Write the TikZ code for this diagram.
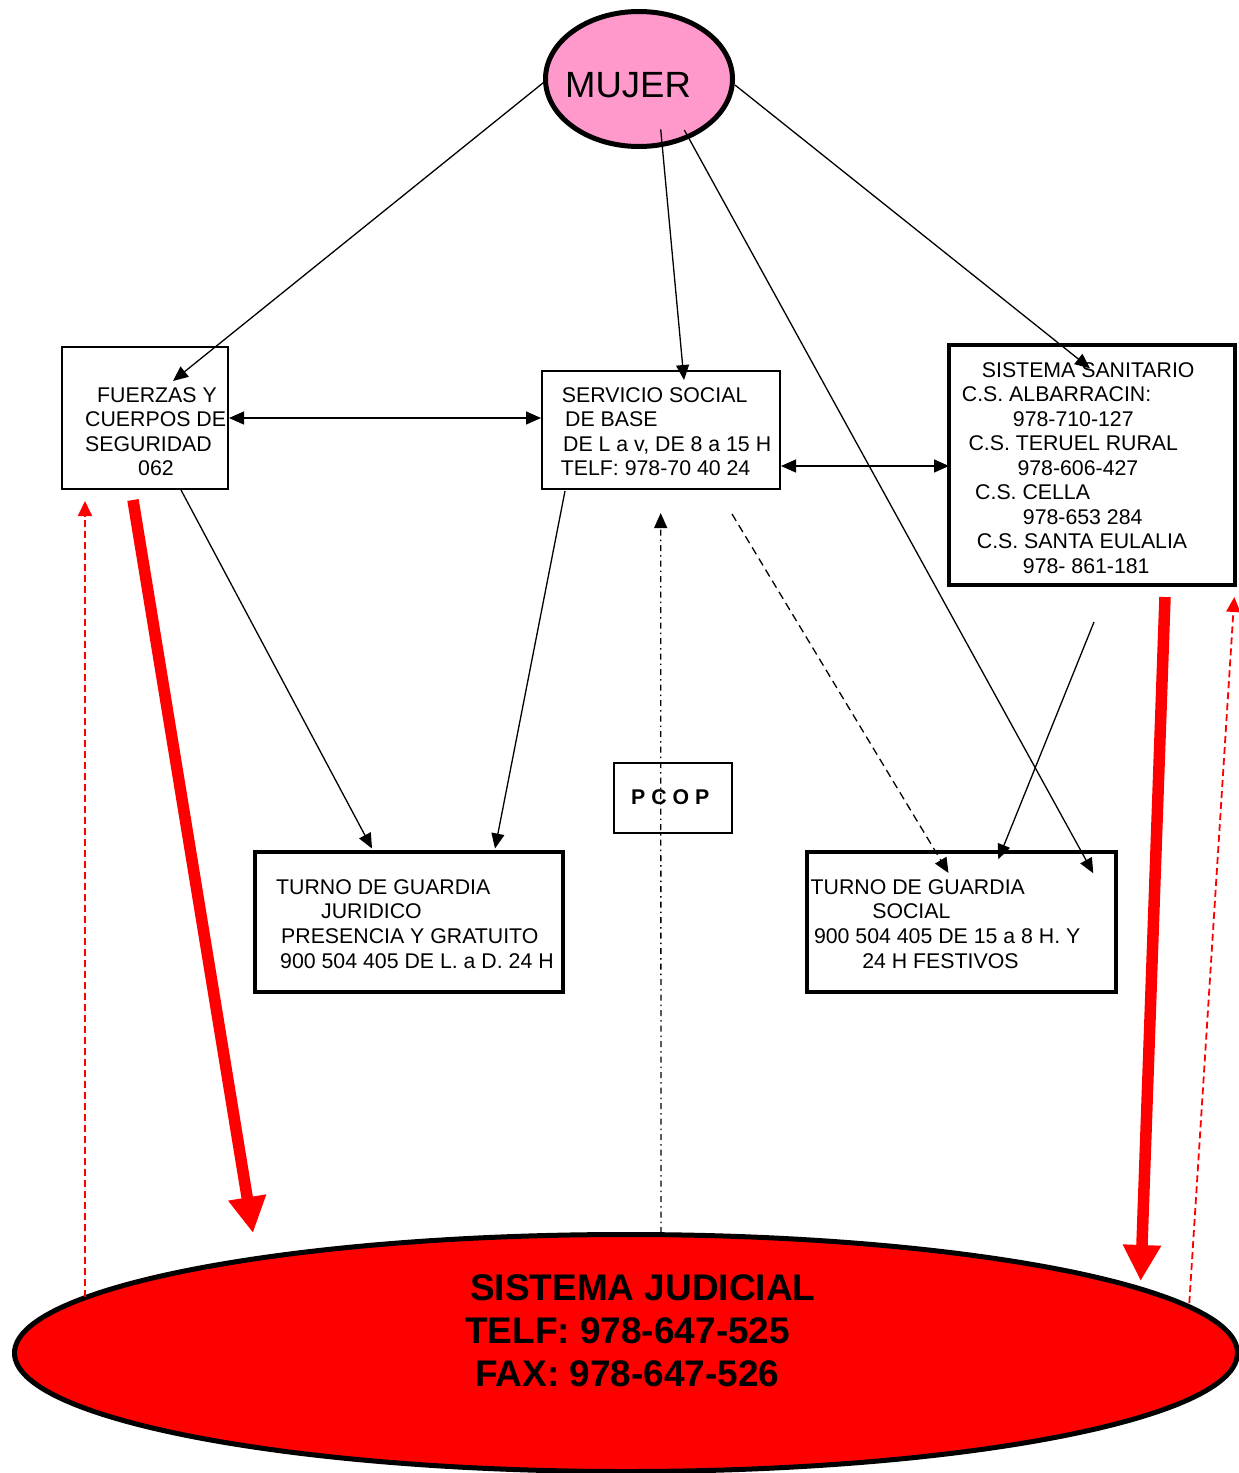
\documentclass[tikz,border=0pt]{standalone}
\usepackage{fontspec}
\setmainfont{Liberation Sans}
\usetikzlibrary{arrows.meta,shapes.geometric}
\definecolor{pinkc}{HTML}{FF99CC}
\begin{document}
\begin{tikzpicture}[x=1pt,y=-1pt,
  tip/.style={-{Triangle[length=15pt,width=13pt]}},
  conn/.style={line width=1.3pt,tip},
  dconn/.style={line width=1.3pt,{Triangle[length=15pt,width=13pt]}-{Triangle[length=15pt,width=13pt]}},
  box/.style={draw,line width=2pt,inner sep=0pt},
  tbox/.style={draw,line width=4pt,inner sep=0pt},
  txt/.style={anchor=north west,inner sep=0pt,align=left,font=\fontsize{21.3}{24.5}\selectfont},
  bigred/.style={draw=red,line width=11.5pt,-{Triangle[length=36pt,width=36pt]}},
  thinred/.style={draw=red,line width=1.8pt,dash pattern=on 7pt off 4pt,-{Triangle[length=15pt,width=14pt]}},
]
\useasboundingbox (0,0) rectangle (1239,1473);
% shapes
\node[ellipse,draw,line width=5pt,fill=pinkc,minimum width=187pt,minimum height=135pt,inner sep=0pt] (mujer) at (639,79) {};
\node[anchor=north west,inner sep=0pt,font=\fontsize{36.5}{40}\selectfont] (mujert) at (565,72.2) {MUJER};
\node[ellipse,draw,line width=5pt,fill=red,minimum width=1223pt,minimum height=237pt,inner sep=0pt] (jud) at (626,1353) {};
\node[anchor=north west,inner sep=0pt,align=left,font=\fontsize{37}{43}\selectfont\bfseries] (judt) at (465,1274.5)
  {\hspace*{5pt}SISTEMA JUDICIAL\\TELF: 978-647-525\\\hspace*{10pt}FAX: 978-647-526};

\node[box,minimum width=166pt,minimum height=142pt] (fz) at (145,418) {};
\node[txt,font=\fontsize{21.3}{24.4}\selectfont] (fzt) at (85,387.5)
  {\hspace*{12pt}FUERZAS Y\\CUERPOS DE\\SEGURIDAD\\\hspace*{53pt}062};

\node[box,minimum width=238pt,minimum height=118pt] (ss) at (661,430) {};
\node[txt] (sst) at (560.7,387)
  {\hspace*{1pt}SERVICIO SOCIAL\\\hspace*{4.3pt}DE BASE\\\hspace*{2.3pt}DE L a v, DE 8 a 15 H\\TELF: 978-70 40 24};

\node[tbox,minimum width=286pt,minimum height=240pt] (san) at (1092,465) {};
\node[txt,font=\fontsize{21.3}{24.5}\selectfont] (sant) at (961.7,362)
  {\hspace*{20pt}SISTEMA SANITARIO\\C.S. ALBARRACIN:\\\hspace*{51pt}978-710-127\\\hspace*{6.6pt}C.S. TERUEL RURAL\\\hspace*{55.6pt}978-606-427\\\hspace*{13.3pt}C.S. CELLA\\\hspace*{61pt}978-653 284\\\hspace*{15pt}C.S. SANTA EULALIA\\\hspace*{61pt}978- 861-181};

\node[tbox,minimum width=308pt,minimum height=140pt] (tj) at (409,922) {};
\node[txt,font=\fontsize{21.3}{24.7}\selectfont] (tjt) at (276,879)
  {TURNO DE GUARDIA\\\hspace*{45pt}JURIDICO\\\hspace*{5pt}PRESENCIA Y GRATUITO\\\hspace*{4pt}900 504 405 DE L. a D. 24 H};

\node[tbox,minimum width=309pt,minimum height=140pt] (ts) at (961.5,922) {};
\node[txt,font=\fontsize{21.3}{24.7}\selectfont] (tst) at (810.5,879)
  {TURNO DE GUARDIA\\\hspace*{61.6pt}SOCIAL\\\hspace*{3.3pt}900 504 405 DE 15 a 8 H. Y\\\hspace*{51.6pt}24 H FESTIVOS};

\node[box,minimum width=118pt,minimum height=70pt] (pc) at (673,798) {};
\node[txt,font=\fontsize{21.3}{24.5}\selectfont\bfseries] (pct) at (631,789) {P C O P};

% coordinates
\coordinate (m1) at (543.3,82.7);
\coordinate (m2) at (660.7,129.3);
\coordinate (m3) at (684.3,130);
\coordinate (m4) at (735,85);
\coordinate (fzin) at (173,381);
\coordinate (ssin) at (684,380);
\coordinate (tsin3) at (1093.3,873.3);
\coordinate (sanin) at (1090,368.3);
\coordinate (fzR) at (229,418);
\coordinate (ssL) at (541,418);
\coordinate (ssR) at (781,466);
\coordinate (sanL) at (949,466);
\coordinate (fzB) at (181,490);
\coordinate (tjin1) at (372,848.5);
\coordinate (ssB) at (565,491);
\coordinate (tjin2) at (495,848.5);
\coordinate (dashS) at (732,514);
\coordinate (tsin1) at (948.5,873);
\coordinate (sanB) at (1094,622);
\coordinate (tsin2) at (998.3,859.3);
\coordinate (jtop) at (661,1233);
\coordinate (pcup) at (660.7,513);
\coordinate (r1s) at (133,500);
\coordinate (r1e) at (253,1233);
\coordinate (r2s) at (1165,597);
\coordinate (r2e) at (1140.7,1281);
\coordinate (d1s) at (85,1297);
\coordinate (d1e) at (85,501);
\coordinate (d2s) at (1189.3,1303);
\coordinate (d2e) at (1234.3,597);

% connectors
\draw[conn] (m1) -- (fzin);
\draw[conn] (m2) -- (ssin);
\draw[conn] (m3) -- (tsin3);
\draw[conn] (m4) -- (sanin);
\draw[dconn] (fzR) -- (ssL);
\draw[dconn] (ssR) -- (sanL);
\draw[conn] (fzB) -- (tjin1);
\draw[conn] (ssB) -- (tjin2);
\draw[conn,dash pattern=on 8pt off 5pt] (dashS) -- (tsin1);
\draw[conn] (sanB) -- (tsin2);
\draw[conn,dash pattern=on 6pt off 4pt on 1.5pt off 4pt] (jtop) -- (pcup);
\draw[bigred] (r1s) -- (r1e);
\draw[bigred] (r2s) -- (r2e);
\draw[thinred] (d1s) -- (d1e);
\draw[thinred] (d2s) -- (d2e);
\end{tikzpicture}
\end{document}
